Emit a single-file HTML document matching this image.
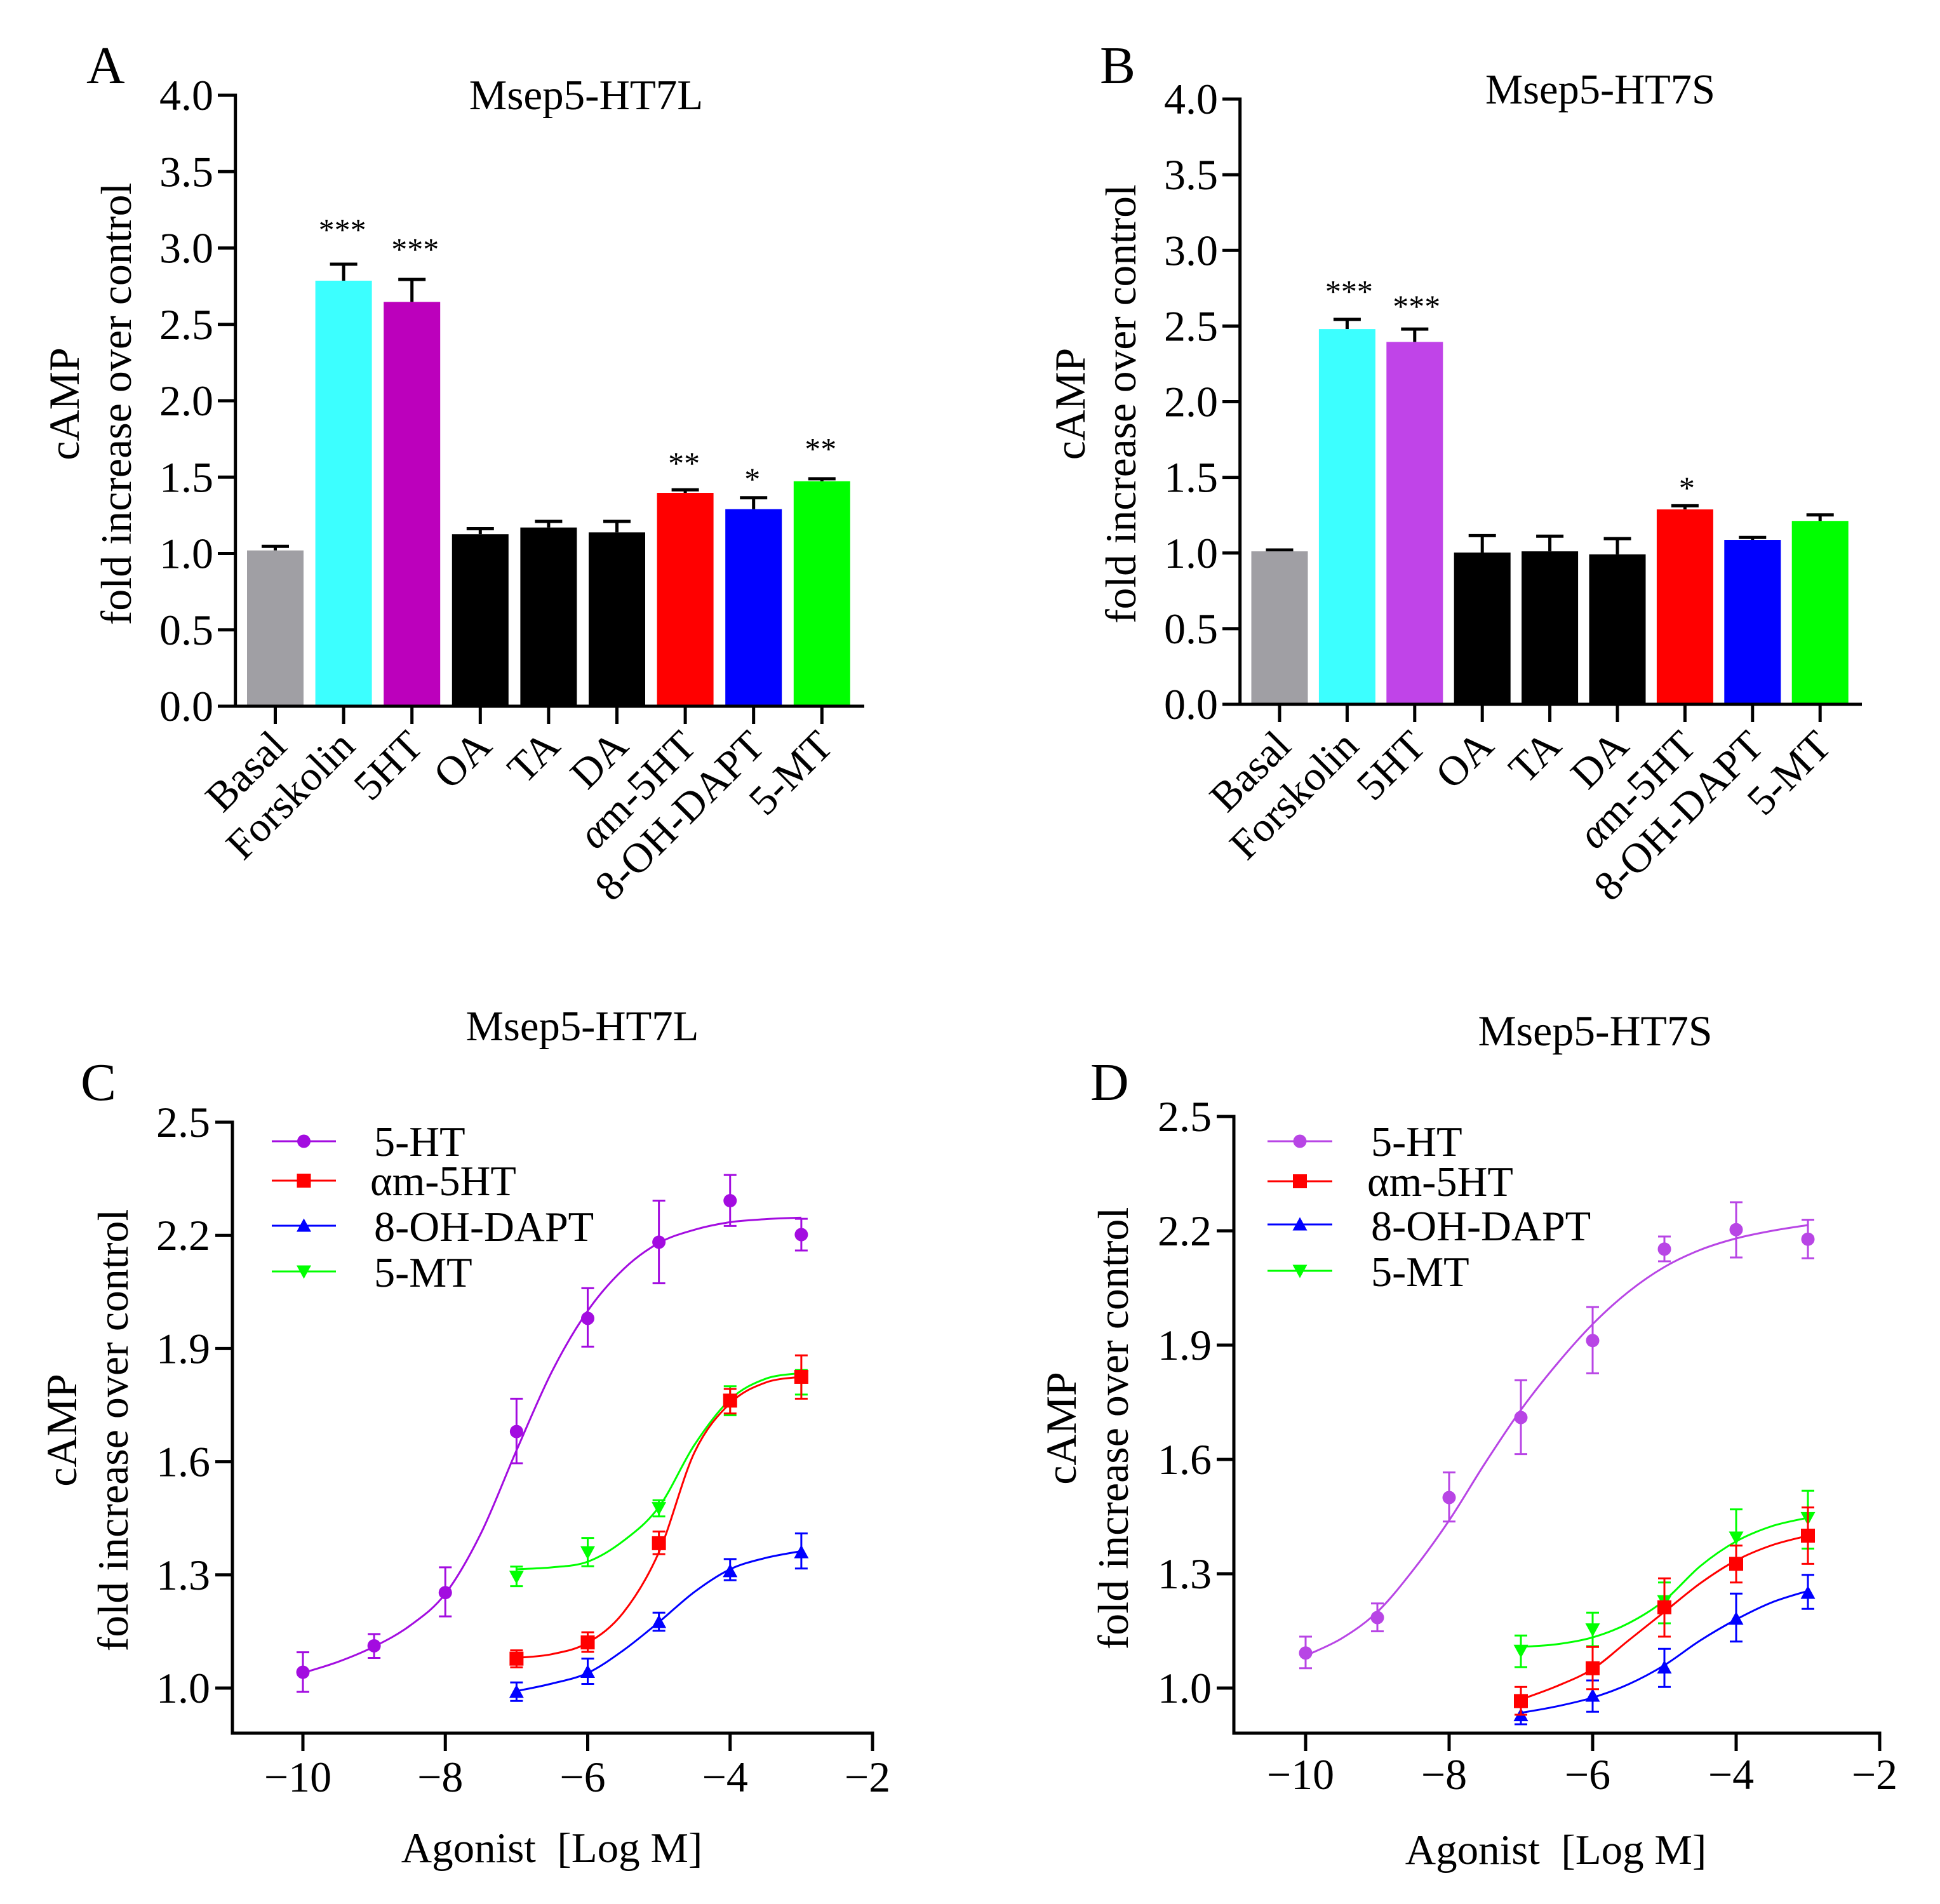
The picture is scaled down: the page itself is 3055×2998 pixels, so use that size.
<!DOCTYPE html>
<html>
<head>
<meta charset="utf-8">
<title>cAMP response of Msep5-HT7L and Msep5-HT7S</title>
<style>
html,body{margin:0;padding:0;background:#fff;width:3055px;height:2998px;overflow:hidden}
svg{display:block;position:absolute;left:0;top:0}
text{font-family:"Liberation Serif","Noto Serif CJK SC",serif;fill:#000}
</style>
</head>
<body>
<svg id="fig" xmlns="http://www.w3.org/2000/svg" width="3055" height="2998" viewBox="0 0 3055 2998"></svg>
<script>
/* ---------- bar chart data ---------- */
const barCategories = ['Basal','Forskolin','5HT','OA','TA','DA','αm-5HT','8-OH-DAPT','5-MT'];
const barTicks = [0,0.5,1,1.5,2,2.5,3,3.5,4];
const barTickLabels = ['0.0','0.5','1.0','1.5','2.0','2.5','3.0','3.5','4.0'];
const barColorsA = ['#a09fa4','#3cffff','#bc00bc','#000000','#000000','#000000','#ff0000','#0000ff','#00ff00'];
const barColorsB = ['#a09fa4','#3cffff','#c044e8','#000000','#000000','#000000','#ff0000','#0000ff','#00ff00'];
const barValuesA = [1.02,2.786,2.647,1.126,1.17,1.138,1.397,1.29,1.473];
const barErrTopA = [1.047,2.894,2.794,1.162,1.21,1.21,1.417,1.365,1.489];
const barStarsA = ['','***','***','','','','**','*','**'];
const barStarLevelA = [0,3.145,3.018,0,0,0,1.617,1.513,1.712];
const barValuesB = [1.011,2.48,2.395,1.003,1.011,0.991,1.288,1.087,1.212];
const barErrTopB = [1.02,2.544,2.48,1.115,1.111,1.095,1.312,1.103,1.252];
const barStarsB = ['','***','***','','','','*','',''];
const barStarLevelB = [0,2.756,2.656,0,0,0,1.456,0,0];

/* ---------- dose-response data ---------- */
const doseTicksY = [1,1.3,1.6,1.9,2.2,2.5];
const doseTickLabelsY = ['1.0','1.3','1.6','1.9','2.2','2.5'];
const doseTicksX = [-10,-8,-6,-4,-2];
const doseTickLabelsX = ['−10','−8','−6','−4','−2'];
const seriesNames = ['5-HT','αm-5HT','8-OH-DAPT','5-MT'];
const longDoses = [-10,-9,-8,-7,-6,-5,-4,-3];
const shortDoses = [-7,-6,-5,-4,-3];
const longGrid = [-10,-9.5,-9,-8.5,-8,-7.5,-7,-6.5,-6,-5.5,-5,-4.5,-4,-3.5,-3];
const shortGrid = [-7,-6.5,-6,-5.5,-5,-4.5,-4,-3.5,-3];

const c5htMean = [1.042,1.112,1.253,1.68,1.98,2.182,2.292,2.202];
const c5htHigh = [1.095,1.143,1.32,1.767,2.06,2.292,2.36,2.244];
const c5htLow  = [0.99,1.08,1.19,1.596,1.905,2.073,2.225,2.16];
const c5htCurve = [1.04,1.07,1.11,1.165,1.25,1.41,1.63,1.84,2.00,2.11,2.18,2.215,2.235,2.243,2.247];
const cAmMean = [1.078,1.121,1.384,1.762,1.825];
const cAmHigh = [1.1,1.148,1.415,1.793,1.882];
const cAmLow  = [1.055,1.096,1.355,1.728,1.767];
const cAmCurve = [1.08,1.09,1.12,1.20,1.36,1.625,1.755,1.81,1.825];
const cOhMean = [0.99,1.043,1.175,1.31,1.36];
const cOhHigh = [1.015,1.078,1.2,1.342,1.41];
const cOhLow  = [0.966,1.011,1.152,1.286,1.317];
const cOhCurve = [0.992,1.012,1.04,1.10,1.175,1.255,1.315,1.345,1.363];
const cMtMean = [1.295,1.36,1.477,1.762,1.825];
const cMtHigh = [1.322,1.398,1.498,1.80,1.843];
const cMtLow  = [1.27,1.323,1.455,1.723,1.778];
const cMtCurve = [1.315,1.32,1.335,1.39,1.48,1.645,1.765,1.82,1.835];

const d5htMean = [1.092,1.185,1.50,1.71,1.912,2.152,2.203,2.178];
const d5htHigh = [1.135,1.222,1.566,1.808,2.0,2.185,2.275,2.229];
const d5htLow  = [1.052,1.149,1.437,1.614,1.826,2.12,2.13,2.128];
const d5htCurve = [1.085,1.13,1.20,1.31,1.44,1.59,1.73,1.85,1.955,2.04,2.105,2.15,2.18,2.20,2.215];
const dAmMean = [0.966,1.052,1.212,1.326,1.40];
const dAmHigh = [1.003,1.108,1.288,1.374,1.474];
const dAmLow  = [0.93,0.997,1.135,1.277,1.326];
const dAmCurve = [0.97,1.005,1.05,1.125,1.20,1.275,1.335,1.375,1.40];
const dOhMean = [0.929,0.98,1.054,1.182,1.25];
const dOhHigh = [0.95,1.02,1.103,1.248,1.297];
const dOhLow  = [0.905,0.938,1.003,1.122,1.208];
const dOhCurve = [0.935,0.952,0.975,1.01,1.06,1.125,1.18,1.225,1.255];
const dMtMean = [1.098,1.154,1.228,1.395,1.446];
const dMtHigh = [1.138,1.198,1.277,1.469,1.518];
const dMtLow  = [1.055,1.11,1.17,1.323,1.366];
const dMtCurve = [1.108,1.115,1.133,1.17,1.23,1.32,1.385,1.425,1.447];

/* series paint order: 5-HT, 8-OH-DAPT, 5-MT, then am-5HT on top */
const paintOrder = [0,2,3,1];

/* ---------- helpers ---------- */
const NS = 'http://www.w3.org/2000/svg';
const root = document.getElementById('fig');
function mk(tag, parent, name, attrs, txt){
  const el = document.createElementNS(NS, tag);
  
  
  for (const k in attrs) el.setAttribute(k, attrs[k]);
  if (txt !== undefined) el.textContent = txt;
  parent.appendChild(el);
  return el;
}
function line(p, name, x1, y1, x2, y2, color, w){
  return mk('line', p, name, {x1:x1, y1:y1, x2:x2, y2:y2, stroke:color, 'stroke-width':w});
}
function text(p, name, x, y, size, str, anchor, extra){
  const a = Object.assign({x:x, y:y, 'font-size':size, 'text-anchor':anchor || 'start'}, extra || {});
  return mk('text', p, name, a, str);
}
function vtext(p, name, x, cy, size, str){
  return mk('text', p, name, {transform:'translate('+x+' '+cy+') rotate(-90)', 'font-size':size, 'text-anchor':'middle'}, str);
}
function smoothPath(pts){
  let d = 'M' + pts[0][0] + ' ' + pts[0][1];
  for (let i = 0; i < pts.length - 1; i++){
    const p0 = pts[Math.max(i - 1, 0)], p1 = pts[i], p2 = pts[i + 1], p3 = pts[Math.min(i + 2, pts.length - 1)];
    d += ' C' + (p1[0] + (p2[0] - p0[0]) / 6) + ' ' + (p1[1] + (p2[1] - p0[1]) / 6) + ' ' +
         (p2[0] - (p3[0] - p1[0]) / 6) + ' ' + (p2[1] - (p3[1] - p1[1]) / 6) + ' ' + p2[0] + ' ' + p2[1];
  }
  return d;
}
function marker(p, name, shape, x, y, color){
  if (shape === 'circle') return mk('circle', p, name, {cx:x, cy:y, r:10.5, fill:color});
  if (shape === 'square') return mk('rect', p, name, {x:x - 11, y:y - 11, width:22, height:22, fill:color});
  if (shape === 'up') return mk('polygon', p, name, {points:(x) + ',' + (y - 11.5) + ' ' + (x + 11.5) + ',' + (y + 9.5) + ' ' + (x - 11.5) + ',' + (y + 9.5), fill:color});
  return mk('polygon', p, name, {points:(x) + ',' + (y + 11.5) + ' ' + (x + 11.5) + ',' + (y - 9.5) + ' ' + (x - 11.5) + ',' + (y - 9.5), fill:color});
}

/* ---------- bar panels ---------- */
function barPanel(o){
  const g = mk('g', root, o.id, {});
  const sy = v => o.y0 + (o.y4 - o.y0) * v / 4;
  const sx = i => o.xFirst + o.pitch * i;
  text(g, 'panel-letter', o.letterX, o.letterY, 84, o.letter);
  text(g, 'chart-title', o.titleX, o.titleY, o.titleSize, o.title, 'middle');
  vtext(g, 'y-axis-title-camp', o.camX, o.labelCy, o.labelSize, 'cAMP');
  vtext(g, 'y-axis-title-fold-increase', o.foldX, o.labelCy, o.labelSize, 'fold increase over control');
  o.values.forEach((v, i) => {
    line(g, 'error-stem-' + i, sx(i), sy(o.err[i]), sx(i), sy(v), '#000', 5);
    line(g, 'error-cap-' + i, sx(i) - 21.5, sy(o.err[i]), sx(i) + 21.5, sy(o.err[i]), '#000', 5);
    mk('rect', g, 'bar-' + barCategories[i].toLowerCase(), {x:sx(i) - 44.5, y:sy(v), width:89, height:o.y0 - sy(v), fill:o.colors[i]});
    if (o.stars[i]) text(g, 'significance-' + i, sx(i) + o.starDx + (i === 2 ? o.star5htDx : 0), sy(o.starLevel[i]) + 23, 50, o.stars[i], 'middle');
  });
  line(g, 'y-axis', o.axisX, o.y4 - 2.5, o.axisX, o.y0, '#000', 5);
  line(g, 'x-axis', o.tickL, o.y0, o.xEnd, o.y0, '#000', 5);
  barTicks.forEach((t, i) => {
    line(g, 'y-tick-' + barTickLabels[i], o.tickL, sy(t), o.axisX, sy(t), '#000', 5);
    text(g, 'y-tick-label-' + barTickLabels[i], o.tickL - 7, sy(t) + 23, 68, barTickLabels[i], 'end');
  });
  barCategories.forEach((c, i) => {
    line(g, 'x-tick-' + i, sx(i), o.y0, sx(i), o.y0 + 28, '#000', 5);
    const lab = mk('text', g, 'x-tick-label-' + i, {transform:'translate(' + (sx(i) + 21) + ' ' + (o.y0 + o.catDy) + ') rotate(-45)', 'font-size':66, 'text-anchor':'end'});
    if (c[0] === 'α'){
      mk('tspan', lab, 'alpha-glyph', {'font-style':'italic'}, 'α');
      mk('tspan', lab, 'label-rest', {}, c.slice(1));
    } else lab.textContent = c;
  });
}
barPanel({id:'panel-a', letter:'A', letterX:136, letterY:131, title:'Msep5-HT7L', titleX:923, titleY:172, titleSize:67,
  camX:124, foldX:206, labelCy:636, labelSize:68, axisX:370.7, tickL:343, xEnd:1361, y0:1112, y4:150, xFirst:433.5, pitch:107.6, catDy:66, starDx:-2, star5htDx:7,
  values:barValuesA, err:barErrTopA, colors:barColorsA, stars:barStarsA, starLevel:barStarLevelA});
barPanel({id:'panel-b', letter:'B', letterX:1732, letterY:131, title:'Msep5-HT7S', titleX:2520, titleY:163, titleSize:66.5,
  camX:1708, foldX:1788, labelCy:636, labelSize:67.5, axisX:1952.7, tickL:1925, xEnd:2932, y0:1109, y4:156, xFirst:2015, pitch:106.4, catDy:69, starDx:3, star5htDx:0,
  values:barValuesB, err:barErrTopB, colors:barColorsB, stars:barStarsB, starLevel:barStarLevelB});

/* ---------- dose-response panels ---------- */
function dosePanel(o){
  const g = mk('g', root, o.id, {});
  const sy = v => o.y10 + (o.y25 - o.y10) * (v - 1) / 1.5;
  const sx = x => o.xm10 + (o.xm2 - o.xm10) * (x + 10) / 8;
  text(g, 'panel-letter', o.letterX, o.letterY, 84, o.letter);
  text(g, 'chart-title', o.titleX, o.titleY, o.titleSize, o.title, 'middle');
  vtext(g, 'y-axis-title-camp', o.camX, o.labelCy, 68, 'cAMP');
  vtext(g, 'y-axis-title-fold-increase', o.foldX, o.labelCy, 68, 'fold increase over control');
  text(g, 'x-axis-title', o.agoX, o.agoY, 67, 'Agonist  [Log M]', 'middle', {style:'white-space:pre'});
  paintOrder.forEach(si => {
    const s = o.series[si];
    const sg = mk('g', g, 'series-' + seriesNames[si], {});
    const pts = s.grid.map((x, i) => [sx(x), sy(s.curve[i])]);
    mk('path', sg, 'fit-curve', {d:smoothPath(pts), fill:'none', stroke:s.color, 'stroke-width':3});
    s.doses.forEach((x, i) => {
      line(sg, 'error-stem', sx(x), sy(s.high[i]), sx(x), sy(s.low[i]), s.color, 3);
      line(sg, 'error-cap-high', sx(x) - 10, sy(s.high[i]), sx(x) + 10, sy(s.high[i]), s.color, 3);
      line(sg, 'error-cap-low', sx(x) - 10, sy(s.low[i]), sx(x) + 10, sy(s.low[i]), s.color, 3);
      marker(sg, 'data-point', s.shape, sx(x), sy(s.mean[i]), s.color);
    });
  });
  line(g, 'y-axis', o.axisX, o.y25 - 2.5, o.axisX, o.yBottom + 2.5, '#000', 5);
  line(g, 'x-axis', o.axisX, o.yBottom, o.xm2 + 2.5, o.yBottom, '#000', 5);
  doseTicksY.forEach((t, i) => {
    line(g, 'y-tick-' + doseTickLabelsY[i], o.tickL, sy(t), o.axisX, sy(t), '#000', 5);
    text(g, 'y-tick-label-' + doseTickLabelsY[i], o.tickL - 8, sy(t) + 23, 68, doseTickLabelsY[i], 'end');
  });
  doseTicksX.forEach((t, i) => {
    line(g, 'x-tick-' + t, sx(t), o.yBottom, sx(t), o.yBottom + 28, '#000', 5);
    text(g, 'x-tick-label-' + t, sx(t) - 8, o.xLabelY, 68, doseTickLabelsX[i], 'middle');
  });
  const lg = mk('g', g, 'legend', {});
  o.series.forEach((s, si) => {
    const e = mk('g', lg, 'legend-entry-' + seriesNames[si], {});
    line(e, 'legend-line', o.legL, o.legY[si], o.legR, o.legY[si], s.color, 3);
    marker(e, 'legend-marker', s.shape, (o.legL + o.legR) / 2, o.legY[si], s.color);
    text(e, 'legend-label', si === 1 ? o.legTextX - 6 : o.legTextX, o.legBase[si], 66.3, seriesNames[si]);
  });
}
dosePanel({id:'panel-c', letter:'C', letterX:127, letterY:1732, title:'Msep5-HT7L', titleX:917, titleY:1638, titleSize:66.7,
  camX:120, foldX:201, labelCy:2252, agoX:869, agoY:2932, axisX:366, tickL:339, y10:2658, y25:1767, yBottom:2729,
  xm10:477, xm2:1374, xLabelY:2821, legL:428, legR:529, legTextX:589,
  legY:[1797,1859,1930,2002], legBase:[1820,1882,1954,2026],
  series:[
    {color:'#a30ce0', shape:'circle', doses:longDoses, mean:c5htMean, high:c5htHigh, low:c5htLow, grid:longGrid, curve:c5htCurve},
    {color:'#ff0000', shape:'square', doses:shortDoses, mean:cAmMean, high:cAmHigh, low:cAmLow, grid:shortGrid, curve:cAmCurve},
    {color:'#0000ff', shape:'up', doses:shortDoses, mean:cOhMean, high:cOhHigh, low:cOhLow, grid:shortGrid, curve:cOhCurve},
    {color:'#00ff00', shape:'down', doses:shortDoses, mean:cMtMean, high:cMtHigh, low:cMtLow, grid:shortGrid, curve:cMtCurve}
  ]});
dosePanel({id:'panel-d', letter:'D', letterX:1717, letterY:1732, title:'Msep5-HT7S', titleX:2512, titleY:1646, titleSize:67.8,
  camX:1694, foldX:1776, labelCy:2249, agoX:2450, agoY:2935, axisX:1943, tickL:1916, y10:2658, y25:1758, yBottom:2729,
  xm10:2056, xm2:2960, xLabelY:2817, legL:1996, legR:2098, legTextX:2159,
  legY:[1797,1860,1928,2001], legBase:[1820,1883,1953,2025],
  series:[
    {color:'#b845e5', shape:'circle', doses:longDoses, mean:d5htMean, high:d5htHigh, low:d5htLow, grid:longGrid, curve:d5htCurve},
    {color:'#ff0000', shape:'square', doses:shortDoses, mean:dAmMean, high:dAmHigh, low:dAmLow, grid:shortGrid, curve:dAmCurve},
    {color:'#0000ff', shape:'up', doses:shortDoses, mean:dOhMean, high:dOhHigh, low:dOhLow, grid:shortGrid, curve:dOhCurve},
    {color:'#00ff00', shape:'down', doses:shortDoses, mean:dMtMean, high:dMtHigh, low:dMtLow, grid:shortGrid, curve:dMtCurve}
  ]});
</script>
</body>
</html>
